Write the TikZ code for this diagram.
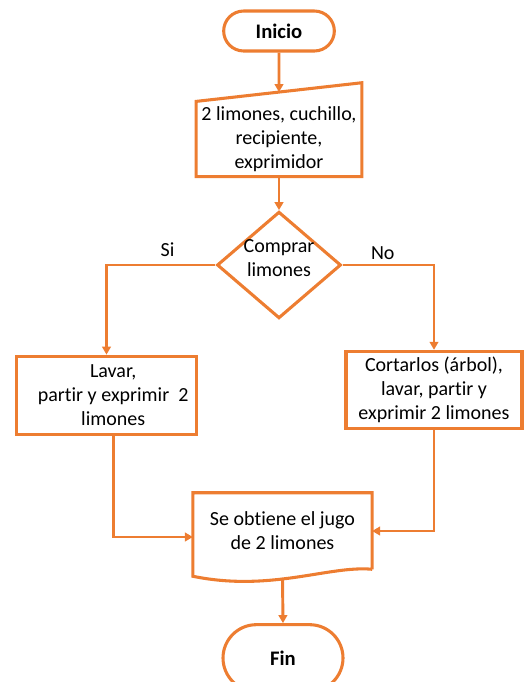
\documentclass[tikz,border=0pt]{standalone}
\usepackage{fontspec}
\setmainfont{Carlito}[Ligatures=NoCommon]
\usetikzlibrary{shapes.geometric,shapes.misc,arrows.meta,calc}

\definecolor{naranja}{RGB}{237,125,49}

\tikzset{
    caja/.style     = {draw=naranja, line width=2.3pt, fill=white, align=center, inner sep=2pt},
    terminal/.style = {caja, rounded rectangle, font=\fontsize{15.5}{18}\selectfont\bfseries},
    borde/.style    = {draw=naranja, line width=2.3pt, line join=miter},
    flecha/.style   = {draw=naranja, line width=2.2pt, -{Triangle[length=6pt,width=6.5pt]}},
}

\begin{document}
\begin{tikzpicture}[x=0.75pt, y=-0.75pt, font=\fontsize{15}{18}\selectfont]
        \clip (0,0) rectangle (524,682);

        % inicio y datos de entrada
        \node[terminal, minimum width=87pt, minimum height=30pt] (inicio) at (279,31) {Inicio};
        \node[align=center, minimum width=124pt, minimum height=56pt] (entrada) at (279,139)
            {2 limones, cuchillo,\\recipiente,\\exprimidor};
        \draw[borde] (entrada.south west) -- (entrada.north west)
            -- ([yshift=14pt]entrada.north east) coordinate (entrada-ne)
            -- (entrada.south east) -- cycle;
        \coordinate (entrada-top) at ($(entrada.north west)!0.5!(entrada-ne)$);

        % decision
        \node[diamond, draw=naranja, line width=2.3pt, aspect=1.17, inner sep=0pt,
              minimum width=93pt, minimum height=80pt] (compra) at (279,265) {};
        \node[align=center] (compra-txt) at ([yshift=5pt]compra.center) {Comprar\\limones};

        % las dos ramas
        \node[caja, minimum width=135pt, minimum height=59pt] (lavar) at (106.5,395.5) {};
        \node[align=center] (lavar-txt) at ([xshift=5pt]lavar.center)
            {Lavar,\\partir y exprimir~~2\\limones};
        \node[caja, minimum width=132pt, minimum height=58pt] (cortar) at (434,390)
            {Cortarlos (árbol),\\lavar, partir y\\exprimir 2 limones};

        % documento con el resultado
        \node[align=center, minimum width=134pt, minimum height=57pt] (jugo) at (282.5,531)
            {Se obtiene el jugo\\de 2 limones};
        \draw[borde] (jugo.south east) -- (jugo.north east) -- (jugo.north west)
            -- ([yshift=-5.25pt]jugo.south west)
            .. controls +(78,16) and +(-43,-4) .. (jugo.south east);

        \node[terminal, minimum width=94pt, minimum height=50pt] (fin) at (283,658) {Fin};

        % conectores
        \draw[flecha] (inicio.south) -- (entrada-top);
        \draw[flecha] (entrada.south) -- (compra.north);
        \draw[flecha] (compra.west) -| node[pos=0.22, above, inner sep=5pt] (si) {Si} (lavar.north);
        \draw[flecha] (compra.east) -| node[pos=0.22, above, inner sep=3pt] (no) {No} (cortar.north);
        \draw[flecha] ([xshift=5pt]lavar.south) |- ([yshift=-4.5pt]jugo.west);
        \draw[flecha] (cortar.south) |- (jugo.east);
        \draw[flecha] ([yshift=-7pt]jugo.south) -- (fin.north);
    \end{tikzpicture}
\end{document}
